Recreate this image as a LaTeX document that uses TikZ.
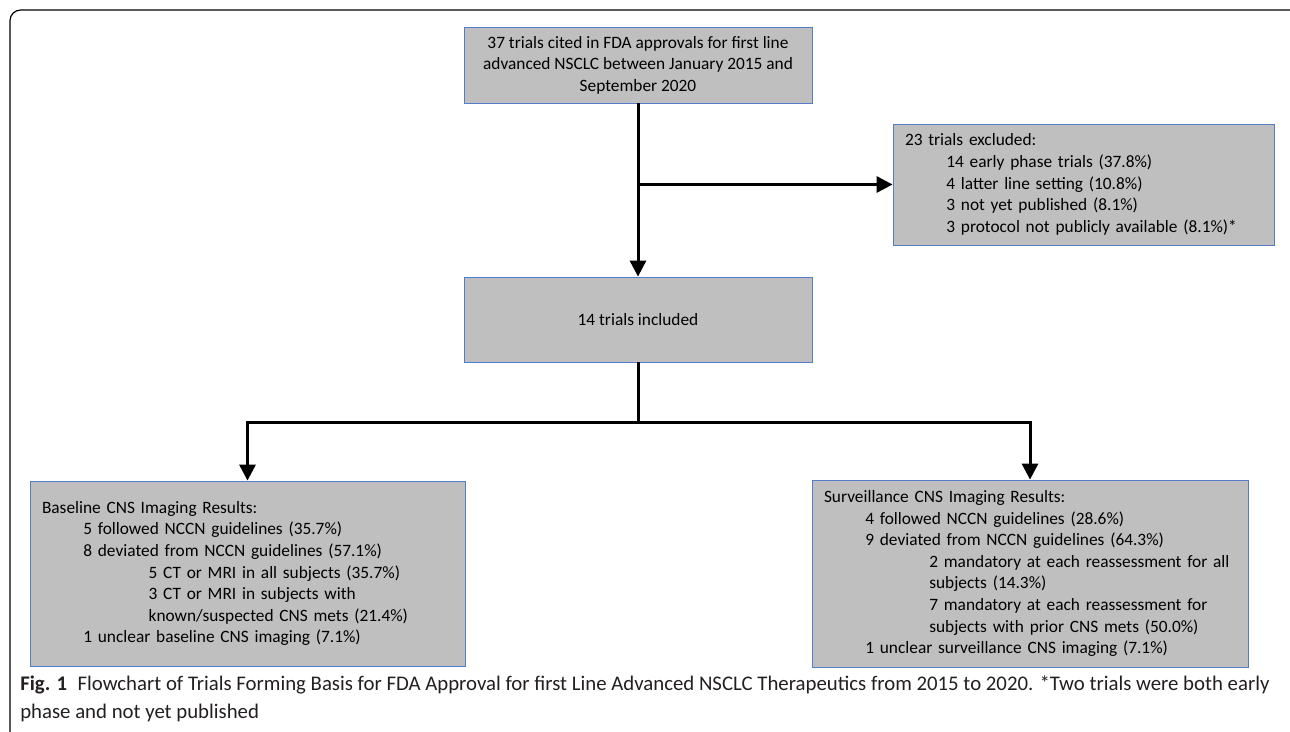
\documentclass[tikz,border=0pt]{standalone}
\usepackage{fontspec}
\setmainfont{Carlito}
\usetikzlibrary{arrows.meta,positioning}
\definecolor{boxgray}{RGB}{191,191,191}
\definecolor{boxblue}{RGB}{84,124,204}
\definecolor{capgray}{RGB}{35,31,32}

\begin{document}
\begin{tikzpicture}[x=0.75pt,y=-0.75pt,
      font=\fontsize{13}{16.2}\selectfont,
      e/.style={draw=boxblue,line width=0.6pt,fill=boxgray,inner xsep=9pt,inner ysep=0pt},
      a/.style={-{Triangle[length=12pt,width=12pt]},line width=2.25pt}]
      \useasboundingbox (0,0) rectangle (1290,732);
      \draw[line width=0.9pt,rounded corners=8pt] (10,745) -- (10,10) -- (1295,10);
      \node[e,minimum width=261pt,minimum height=57pt,align=center] (cited) at (638,65)
        {37 trials cited in FDA approvals for first line\\advanced NSCLC between January 2015 and\\September 2020};
      \node[e,text width=267.75pt,minimum height=90.75pt,align=left] (excl) at (1083.5,184.5)
        {23 trials excluded:\\
         \hspace*{31pt}14 early phase trials (37.8\%)\\
         \hspace*{31pt}4 latter line setting (10.8\%)\\
         \hspace*{31pt}3 not yet published (8.1\%)\\
         \hspace*{31pt}3 protocol not publicly available (8.1\%)*};
      \node[e,minimum width=261pt,minimum height=63.75pt] (incl) at (638,319.5) {14 trials included};
      \node[e,text width=308.25pt,minimum height=138.75pt,align=left] (base) at (247.5,573.5)
        {Baseline CNS Imaging Results:\\
         \hspace*{31pt}5 followed NCCN guidelines (35.7\%)\\
         \hspace*{31pt}8 deviated from NCCN guidelines (57.1\%)\\
         \hspace*{80pt}5 CT or MRI in all subjects (35.7\%)\\
         \hspace*{80pt}3 CT or MRI in subjects with\\
         \hspace*{80pt}known/suspected CNS mets (21.4\%)\\
         \hspace*{31pt}1 unclear baseline CNS imaging (7.1\%)};
      \node[e,text width=309pt,minimum height=140.25pt,align=left] (surv) at (1030,573.5)
        {Surveillance CNS Imaging Results:\\
         \hspace*{31pt}4 followed NCCN guidelines (28.6\%)\\
         \hspace*{31pt}9 deviated from NCCN guidelines (64.3\%)\\
         \hspace*{79pt}2 mandatory at each reassessment for all\\
         \hspace*{79pt}subjects (14.3\%)\\
         \hspace*{79pt}7 mandatory at each reassessment for\\
         \hspace*{79pt}subjects with prior CNS mets (50.0\%)\\
         \hspace*{31pt}1 unclear surveillance CNS imaging (7.1\%)};
      \coordinate (split) at (cited.south |- excl.west);
      \coordinate (fork) at (638,422);
      \draw[a] (cited)--(incl);
      \draw[a] (split)--(excl.west);
      \draw[line width=2.25pt] (incl.south)--(fork);
      \draw[a] (fork)-|(base.north);
      \draw[a] (fork)-|(surv.north);
      \node[anchor=north west,align=left,inner sep=0pt,text=capgray,
        font=\fontsize{15.6}{21}\selectfont] (cap) at (20,675)
        {\textbf{Fig. 1}\enspace Flowchart of Trials Forming Basis for FDA Approval for first Line Advanced NSCLC Therapeutics from 2015 to 2020. *Two trials were both early\\phase and not yet published};
    \end{tikzpicture}
\end{document}
